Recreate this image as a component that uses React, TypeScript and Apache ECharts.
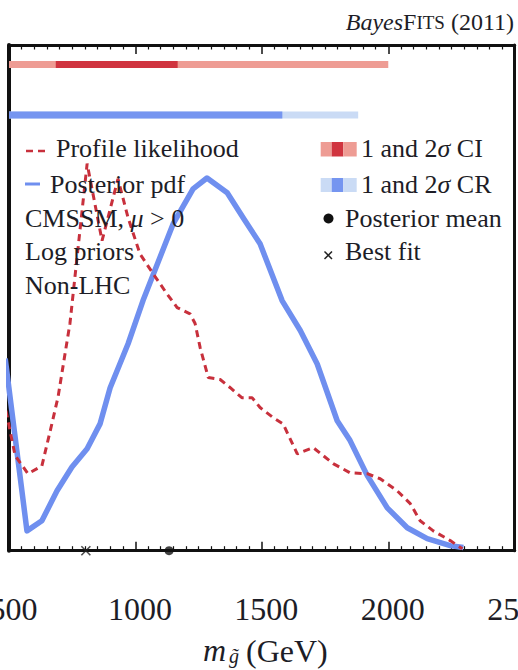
import React, { useEffect, useRef } from "react";
import * as echarts from "echarts";

// ---- data ----
const xTickValues = [500, 1000, 1500, 2000, 2500];

const posteriorPdf: [number, number][] = [
  [485, 0.494], [571, 0.051], [630, 0.077], [690, 0.154], [749, 0.215],
  [809, 0.262], [860, 0.326], [900, 0.419], [971, 0.532], [1030, 0.643],
  [1149, 0.84], [1228, 0.93], [1283, 0.958], [1363, 0.92], [1426, 0.856],
  [1493, 0.789], [1580, 0.643], [1652, 0.566], [1719, 0.48], [1798, 0.334],
  [1849, 0.283], [1917, 0.193], [1996, 0.11], [2075, 0.059], [2154, 0.031],
  [2245, 0.013], [2297, 0.008],
];

const profileLikelihood: [number, number][] = [
  [488, 0.36], [524, 0.245], [575, 0.198], [630, 0.218], [662, 0.305],
  [694, 0.395], [730, 0.54], [741, 0.584], [809, 0.995], [868, 0.797],
  [931, 0.956], [971, 0.856], [1018, 0.763], [1070, 0.712], [1125, 0.66],
  [1165, 0.625], [1216, 0.609], [1236, 0.584], [1256, 0.522], [1288, 0.445],
  [1335, 0.44], [1375, 0.419], [1422, 0.393], [1462, 0.393], [1493, 0.368],
  [1545, 0.342], [1584, 0.326], [1640, 0.249], [1703, 0.265], [1782, 0.224],
  [1849, 0.2], [1917, 0.198], [1968, 0.185], [2035, 0.154], [2087, 0.121],
  [2126, 0.077], [2178, 0.051], [2245, 0.026], [2293, 0.005],
];

const ciOneSigma: [number, number] = [685, 1167];
const ciTwoSigma: [number, number] = [500, 2000];
const crOneSigma: [number, number] = [500, 1581];
const crTwoSigma: [number, number] = [500, 1881];
const bestFit = 804;
const posteriorMean = 1133;

export default function App() {
  const ref = useRef<HTMLDivElement>(null);

  useEffect(() => {
    const chart = echarts.init(ref.current!, null, { renderer: "svg" });
    const FONT = '"Liberation Serif", "DejaVu Serif", serif';
    const INK = "#1d1d26";
    const AX = "#111111";
    const RED_LIGHT = "#EE9C94";
    const RED_DARK = "#D0343F";
    const BLUE_DARK = "#7595F0";
    const BLUE_LIGHT = "#CADBF5";
    const BLUE_LINE = "#6F8FEF";
    const RED_LINE = "#C8303C";
    const CI_Y = 1.25;
    const CR_Y = 1.12;

    const bar = (r: [number, number], y: number, color: string, z: number) => ({
      type: "line",
      data: [[r[0], y], [r[1], y]],
      symbol: "none",
      silent: true,
      z,
      lineStyle: { color, width: 7, cap: "butt" },
    });

    const xAxisBase = {
      type: "value",
      min: xTickValues[0],
      max: xTickValues[xTickValues.length - 1],
      interval: xTickValues[1] - xTickValues[0],
      splitLine: { show: false },
      minorSplitLine: { show: false },
      axisTick: { show: true, inside: true, length: 9, lineStyle: { color: AX, width: 1.5 } },
      minorTick: { show: true, splitNumber: 10, length: 4.5, lineStyle: { color: AX, width: 1.2 } },
    };

    const txt = (text: string, x: number, y: number, extra: any = {}) => ({
      type: "text",
      z: 100,
      style: {
        text,
        x,
        y,
        fill: INK,
        font: `26px ${FONT}`,
        verticalAlign: "middle",
        align: "left",
        ...extra,
      },
    });

    chart.setOption({
      animation: false,
      grid: {
        left: 9,
        right: 3.3,
        top: 45,
        bottom: 119.3,
        containLabel: false,
        outerBoundsMode: "none",
      },
      xAxis: [
        {
          ...xAxisBase,
          position: "bottom",
          axisLine: { show: true, onZero: false, lineStyle: { color: AX, width: 3 } },
          axisLabel: {
            show: true,
            margin: 42,
            padding: [0, 0, 0, 9],
            showMinLabel: true,
            showMaxLabel: true,
            hideOverlap: false,
            fontFamily: FONT,
            fontSize: 32,
            color: INK,
            formatter: (v: number) => String(v),
          },
        },
        {
          ...xAxisBase,
          position: "top",
          axisLine: { show: true, onZero: false, lineStyle: { color: AX, width: 3 } },
          axisLabel: { show: false },
        },
      ],
      yAxis: [
        {
          type: "value",
          min: 0,
          max: 1.3,
          position: "left",
          axisLine: { show: true, onZero: false, lineStyle: { color: AX, width: 4 } },
          axisTick: { show: false },
          axisLabel: { show: false },
          splitLine: { show: false },
        },
        {
          type: "value",
          min: 0,
          max: 1.3,
          position: "right",
          axisLine: { show: true, onZero: false, lineStyle: { color: AX, width: 3 } },
          axisTick: { show: false },
          axisLabel: { show: false },
          splitLine: { show: false },
        },
      ],
      series: [
        bar(ciTwoSigma, CI_Y, RED_LIGHT, 2),
        bar(ciOneSigma, CI_Y, RED_DARK, 3),
        bar(crTwoSigma, CR_Y, BLUE_LIGHT, 2),
        bar(crOneSigma, CR_Y, BLUE_DARK, 3),
        {
          type: "line",
          name: "Posterior pdf",
          data: posteriorPdf,
          symbol: "none",
          clip: false,
          z: 4,
          lineStyle: { color: BLUE_LINE, width: 5.5, join: "round" },
        },
        {
          type: "line",
          name: "Profile likelihood",
          data: profileLikelihood,
          symbol: "none",
          clip: false,
          z: 5,
          lineStyle: { color: RED_LINE, width: 3, type: [7, 5] },
        },
        {
          type: "scatter",
          name: "Posterior mean",
          data: [[posteriorMean, 0]],
          symbol: "circle",
          symbolSize: 9,
          clip: false,
          z: 10,
          itemStyle: { color: "#111" },
        },
        {
          type: "scatter",
          name: "Best fit",
          data: [[bestFit, 0]],
          symbol: "path://M0 0L10 10M10 0L0 10",
          symbolSize: 9,
          clip: false,
          z: 10,
          itemStyle: { color: "none", borderColor: "#222", borderWidth: 1.6 },
        },
      ],
      graphic: [
        // title
        {
          type: "text",
          z: 100,
          style: {
            text: "{i|Bayes}{c|F}{s|ITS}{n| (2011)}",
            x: 514,
            y: 22,
            align: "right",
            verticalAlign: "middle",
            fill: INK,
            rich: {
              i: { fontFamily: FONT, fontSize: 24, fontStyle: "italic", fill: INK },
              c: { fontFamily: FONT, fontSize: 24, fill: INK },
              s: { fontFamily: FONT, fontSize: 19, fill: INK },
              n: { fontFamily: FONT, fontSize: 24, fill: INK },
            },
          },
        },
        // left legend
        {
          type: "line",
          z: 100,
          shape: { x1: 26, y1: 151, x2: 46, y2: 151 },
          style: { stroke: RED_LINE, lineWidth: 2.5, lineDash: [7, 5] },
        },
        txt("Profile likelihood", 56, 148),
        {
          type: "line",
          z: 100,
          shape: { x1: 25, y1: 184, x2: 40, y2: 184 },
          style: { stroke: BLUE_LINE, lineWidth: 3 },
        },
        txt("Posterior pdf", 50, 184),
        {
          type: "text",
          z: 100,
          style: {
            text: "CMSSM, {i|μ} > 0",
            x: 25,
            y: 218,
            align: "left",
            verticalAlign: "middle",
            fill: INK,
            font: `26px ${FONT}`,
            rich: { i: { fontFamily: FONT, fontSize: 26, fontStyle: "italic", fill: INK } },
          },
        },
        txt("Log priors", 25, 251),
        txt("Non-LHC", 25, 285),
        // right legend
        { type: "rect", z: 100, shape: { x: 320.7, y: 142, width: 11, height: 14.5 }, style: { fill: RED_LIGHT } },
        { type: "rect", z: 100, shape: { x: 331.7, y: 142, width: 11.6, height: 14.5 }, style: { fill: RED_DARK } },
        { type: "rect", z: 100, shape: { x: 343.3, y: 142, width: 13.4, height: 14.5 }, style: { fill: RED_LIGHT } },
        {
          type: "text",
          z: 100,
          style: {
            text: "1 and 2{i|σ} CI",
            x: 361,
            y: 148,
            align: "left",
            verticalAlign: "middle",
            fill: INK,
            font: `26px ${FONT}`,
            rich: { i: { fontFamily: FONT, fontSize: 26, fontStyle: "italic", fill: INK } },
          },
        },
        { type: "rect", z: 100, shape: { x: 320.7, y: 178, width: 11, height: 14 }, style: { fill: BLUE_LIGHT } },
        { type: "rect", z: 100, shape: { x: 331.7, y: 178, width: 11.6, height: 14 }, style: { fill: BLUE_DARK } },
        { type: "rect", z: 100, shape: { x: 343.3, y: 178, width: 13.4, height: 14 }, style: { fill: BLUE_LIGHT } },
        {
          type: "text",
          z: 100,
          style: {
            text: "1 and 2{i|σ} CR",
            x: 361,
            y: 184,
            align: "left",
            verticalAlign: "middle",
            fill: INK,
            font: `26px ${FONT}`,
            rich: { i: { fontFamily: FONT, fontSize: 26, fontStyle: "italic", fill: INK } },
          },
        },
        { type: "circle", z: 100, shape: { cx: 328.5, cy: 218.5, r: 5 }, style: { fill: "#111" } },
        txt("Posterior mean", 345, 218),
        { type: "line", z: 100, shape: { x1: 324.5, y1: 251.5, x2: 332, y2: 259 }, style: { stroke: "#222", lineWidth: 1.5 } },
        { type: "line", z: 100, shape: { x1: 332, y1: 251.5, x2: 324.5, y2: 259 }, style: { stroke: "#222", lineWidth: 1.5 } },
        txt("Best fit", 345, 251),
        // x-axis title
        txt("m", 203, 650, { font: `italic 32px ${FONT}` }),
        txt("g\u0303", 229, 656, { font: `italic 20px ${FONT}` }),
        txt("(GeV)", 246, 651, { font: `32px ${FONT}` }),
      ],
    });

    return () => chart.dispose();
  }, []);

  return (
    <div
      ref={ref}
      style={{ position: "fixed", left: 0, top: 0, width: 518, height: 670, background: "#fff" }}
    />
  );
}
